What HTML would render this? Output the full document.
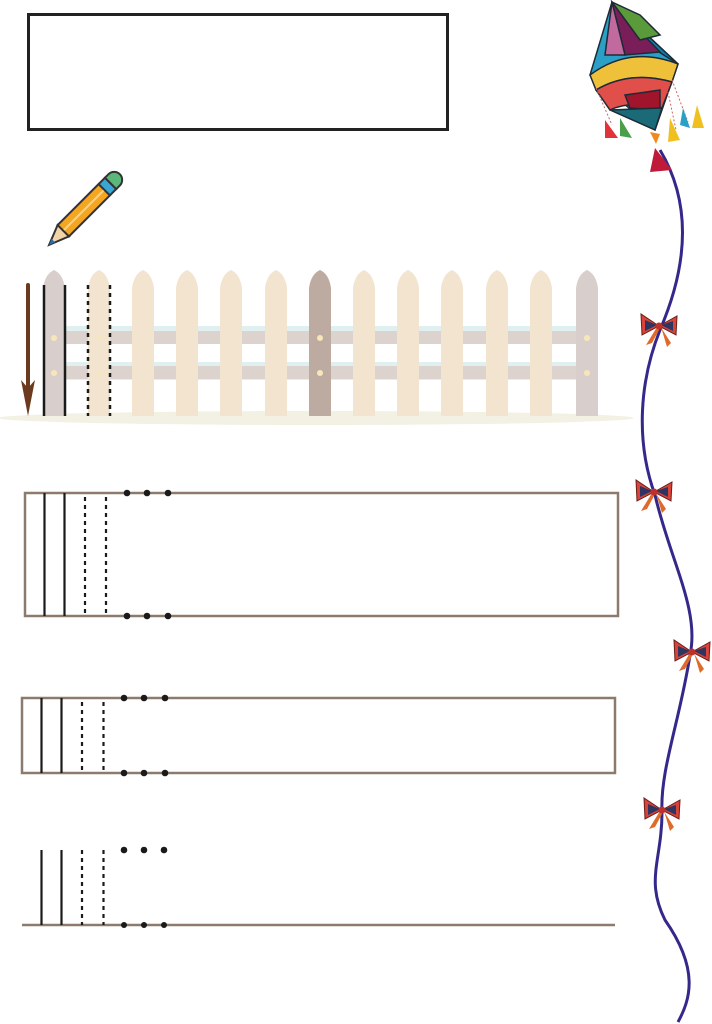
<!DOCTYPE html>
<html><head><meta charset="utf-8"><style>html,body{margin:0;padding:0;background:#fff}svg{display:block}</style></head>
<body>
<svg width="712" height="1024" viewBox="0 0 712 1024" xmlns="http://www.w3.org/2000/svg">
<defs>
<g id="b">
<path d="M0,0 L-18,-12 L-17,9 z" fill="#d8433a" stroke="#6a1f1a" stroke-width="1"/>
<path d="M-2,-1 L-14,-6 L-14,5 z" fill="#2e3560"/>
<path d="M0,0 L18,-10 L17,9 z" fill="#d8433a" stroke="#6a1f1a" stroke-width="1"/>
<path d="M2,-1 L14,-5 L14,5 z" fill="#2e3560"/>
<path d="M-2,1 L-13,19 L-7,17 L0,4 z" fill="#e06a2a"/>
<path d="M2,1 L8,21 L12,17 L3,3 z" fill="#e06a2a"/>
<circle cx="0" cy="0" r="3.5" fill="#c0302a"/>
</g>
</defs>
<rect x="28.5" y="14.5" width="419" height="115" fill="none" stroke="#222" stroke-width="3"/>

<!-- pencil -->
<g transform="translate(88,206) rotate(-45)">
<rect x="-35" y="-8" width="58" height="16" fill="#f4a623" stroke="#333" stroke-width="2"/>
<line x1="-35" y1="0" x2="23" y2="0" stroke="#fbd27a" stroke-width="2"/>
<rect x="23" y="-8" width="9" height="16" fill="#3aa6d6" stroke="#333" stroke-width="2"/>
<path d="M32,-8 h5 a8,8 0 0 1 0,16 h-5 z" fill="#5cb87a" stroke="#333" stroke-width="2"/>
<path d="M-35,-8 L-55,0 L-35,8 z" fill="#f3d3a8" stroke="#333" stroke-width="2"/>
<path d="M-49,-2.5 L-55,0 L-49,2.5 z" fill="#2a6fa8"/>
</g>

<!-- fence -->
<ellipse cx="316" cy="418" rx="318" ry="7" fill="#f3f1e4"/>
<rect x="60" y="326" width="532" height="18" fill="#e0f0f0"/>
<rect x="60" y="331" width="532" height="13" fill="#dcd2ce"/>
<rect x="60" y="362" width="532" height="18" fill="#e0f0f0"/>
<rect x="60" y="366" width="532" height="13" fill="#dcd2ce"/>
<g>
<path d="M43,416 V288 Q45,274 54,270 Q63,274 65,288 V416 z" fill="#d8cfcc"/>
<path d="M88,416 V288 Q90,274 99,270 Q108,274 110,288 V416 z" fill="#f2e4cf"/>
<path d="M132,416 V288 Q134,274 143,270 Q152,274 154,288 V416 z" fill="#f2e4cf"/>
<path d="M176,416 V288 Q178,274 187,270 Q196,274 198,288 V416 z" fill="#f2e4cf"/>
<path d="M220,416 V288 Q222,274 231,270 Q240,274 242,288 V416 z" fill="#f2e4cf"/>
<path d="M265,416 V288 Q267,274 276,270 Q285,274 287,288 V416 z" fill="#f2e4cf"/>
<path d="M309,416 V288 Q311,274 320,270 Q329,274 331,288 V416 z" fill="#bdaba2"/>
<path d="M353,416 V288 Q355,274 364,270 Q373,274 375,288 V416 z" fill="#f2e4cf"/>
<path d="M397,416 V288 Q399,274 408,270 Q417,274 419,288 V416 z" fill="#f2e4cf"/>
<path d="M441,416 V288 Q443,274 452,270 Q461,274 463,288 V416 z" fill="#f2e4cf"/>
<path d="M486,416 V288 Q488,274 497,270 Q506,274 508,288 V416 z" fill="#f2e4cf"/>
<path d="M530,416 V288 Q532,274 541,270 Q550,274 552,288 V416 z" fill="#f2e4cf"/>
<path d="M576,416 V288 Q578,274 587,270 Q596,274 598,288 V416 z" fill="#d8cfcc"/>
</g>
<g fill="#f7e7b8">
<circle cx="54" cy="338" r="3"/><circle cx="54" cy="373" r="3"/>
<circle cx="99" cy="338" r="2"/><circle cx="99" cy="373" r="2"/>
<circle cx="320" cy="338" r="3"/><circle cx="320" cy="373" r="3"/>
<circle cx="587" cy="338" r="3"/><circle cx="587" cy="373" r="3"/>
</g>
<line x1="28" y1="285" x2="28" y2="395" stroke="#6b3a1f" stroke-width="4" stroke-linecap="round"/>
<path d="M21,380 L28,416 L35,380 L28,388 z" fill="#6b3a1f"/>
<g stroke="#1a1a1a" stroke-width="2.5">
<line x1="44" y1="285" x2="44" y2="416"/><line x1="65" y1="285" x2="65" y2="416"/>
<line x1="88" y1="285" x2="88" y2="416" stroke-dasharray="4,4"/><line x1="110" y1="285" x2="110" y2="416" stroke-dasharray="4,4"/>
</g>

<!-- box 1 -->
<rect x="25" y="493" width="593" height="123" fill="none" stroke="#8c7b6d" stroke-width="2.5"/>
<g stroke="#1a1a1a" stroke-width="2.2">
<line x1="44.5" y1="493" x2="44.5" y2="616"/><line x1="64.5" y1="493" x2="64.5" y2="616"/>
<line x1="85" y1="497" x2="85" y2="616" stroke-dasharray="4,4"/><line x1="106" y1="497" x2="106" y2="616" stroke-dasharray="4,4"/>
</g>
<g fill="#1a1a1a">
<circle cx="127" cy="493" r="3.3"/><circle cx="147" cy="493" r="3.3"/><circle cx="168" cy="493" r="3.3"/>
<circle cx="127" cy="616" r="3.3"/><circle cx="147" cy="616" r="3.3"/><circle cx="168" cy="616" r="3.3"/>
</g>

<!-- box 2 -->
<rect x="22" y="698" width="593" height="75" fill="none" stroke="#8c7b6d" stroke-width="2.5"/>
<g stroke="#1a1a1a" stroke-width="2.2">
<line x1="41.5" y1="698" x2="41.5" y2="773"/><line x1="61.5" y1="698" x2="61.5" y2="773"/>
<line x1="82" y1="702" x2="82" y2="773" stroke-dasharray="4,4"/><line x1="103.5" y1="702" x2="103.5" y2="773" stroke-dasharray="4,4"/>
</g>
<g fill="#1a1a1a">
<circle cx="124" cy="698" r="3.3"/><circle cx="144" cy="698" r="3.3"/><circle cx="165" cy="698" r="3.3"/>
<circle cx="124" cy="773" r="3.3"/><circle cx="144" cy="773" r="3.3"/><circle cx="165" cy="773" r="3.3"/>
</g>

<!-- row 3 -->
<line x1="22" y1="925" x2="615" y2="925" stroke="#8c7b6d" stroke-width="2.5"/>
<g stroke="#1a1a1a" stroke-width="2.2">
<line x1="41.5" y1="850" x2="41.5" y2="925"/><line x1="61.5" y1="850" x2="61.5" y2="925"/>
<line x1="82" y1="850" x2="82" y2="925" stroke-dasharray="4,4"/><line x1="103.5" y1="850" x2="103.5" y2="925" stroke-dasharray="4,4"/>
</g>
<g fill="#1a1a1a">
<circle cx="124" cy="850" r="3.3"/><circle cx="144" cy="850" r="3.3"/><circle cx="164" cy="850" r="3.3"/>
<circle cx="124" cy="925" r="3"/><circle cx="144" cy="925" r="3"/><circle cx="164" cy="925" r="3"/>
</g>

<!-- string -->
<path d="M660,150 C690,200 690,260 660,330 C640,380 635,440 655,495 C670,560 700,610 690,655 C680,720 660,770 662,812 C662,860 645,880 665,920 C700,970 690,1000 678,1022" fill="none" stroke="#34288a" stroke-width="3"/>

<use href="#b" x="659" y="326"/>
<use href="#b" x="654" y="492"/>
<use href="#b" x="692" y="652"/>
<use href="#b" x="662" y="810"/>

<!-- kite -->
<g stroke="#1e2a36" stroke-width="1.5">
<path d="M612,2 L678,64 L655,130 L590,75 z" fill="#2aa0c6"/>
<path d="M612,2 L640,40 L678,64 z" fill="#0f7ea6"/>
<path d="M612,2 L625,55 L660,52 z" fill="#7a1e5a"/>
<path d="M612,2 L605,55 L625,55 z" fill="#c06aa0"/>
<path d="M612,2 L640,15 L660,35 L640,40 z" fill="#5a9a3a"/>
<path d="M590,75 Q630,45 678,64 L672,82 Q630,70 596,90 z" fill="#efc13a"/>
<path d="M596,90 Q630,70 672,82 L662,108 Q630,100 610,110 z" fill="#e14f4a"/>
<path d="M625,95 L660,90 L660,110 L630,108 z" fill="#a0142c"/>
<path d="M610,110 L662,108 L655,130 z" fill="#1a6a78"/>
</g>
<g stroke="#c66" stroke-width="1" stroke-dasharray="2,2" fill="none">
<path d="M596,88 L612,125"/><path d="M672,80 L688,122"/><path d="M668,92 L676,130"/>
</g>
<path d="M605,120 L618,138 L605,138 z" fill="#e0343a"/>
<path d="M620,118 L632,138 L620,136 z" fill="#4aa04a"/>
<path d="M670,118 L680,140 L668,142 z" fill="#f0c020"/>
<path d="M683,108 L690,128 L680,125 z" fill="#2aa0c6"/>
<path d="M697,105 L704,128 L692,128 z" fill="#f0c020"/>
<path d="M650,132 L656,144 L660,134 z" fill="#f08a20"/>
<path d="M655,148 L672,170 L650,172 z" fill="#c01a3a"/>
</svg>
</body></html>
